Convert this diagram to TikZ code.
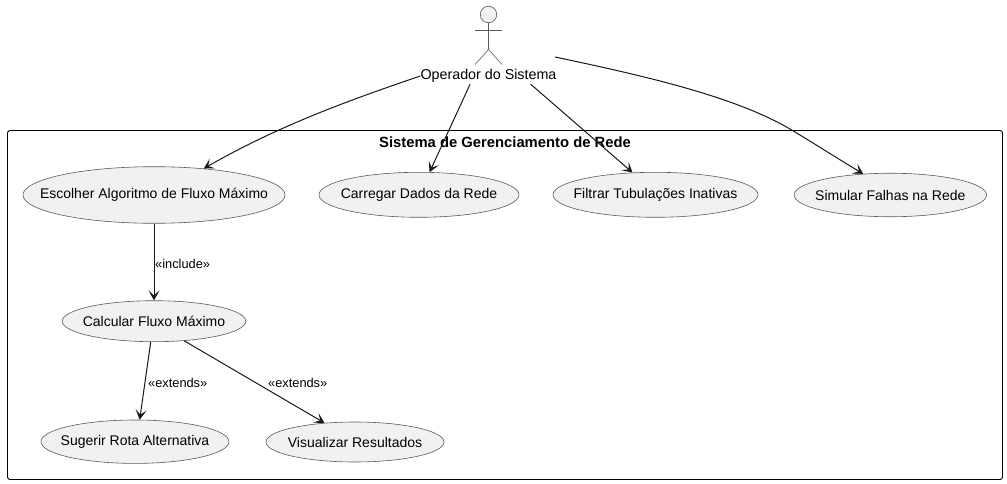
\documentclass[tikz,border=0pt]{standalone}
\usepackage{fontspec}
\setmainfont{Liberation Sans}
\usetikzlibrary{arrows.meta,shapes.geometric}
\definecolor{umlink}{HTML}{181818}
\definecolor{umlline}{HTML}{5A5A5A}
\definecolor{umlfill}{HTML}{F1F1F1}
\newcommand{\uclabel}[1]{\makebox[0pt]{#1}}
\tikzset{
  usecase/.style={ellipse,draw=umlline,line width=0.6pt,fill=umlfill,inner sep=0pt,text=black,font=\fontsize{14}{16}\selectfont},
  conn/.style={draw=umlink,line width=1pt,-{Stealth[length=10pt,width=11pt,inset=5pt]}},
  stereo/.style={inner sep=0pt,anchor=west,font=\fontsize{12.8}{14}\selectfont},
  stick/.style={draw=umlline,line width=0.6pt}
}
\begin{document}
\begin{tikzpicture}[x=1pt,y=-1pt]
  \useasboundingbox (0,0) rectangle (1007,484);
  \draw[draw=black,line width=0.9pt,rounded corners=2.5pt] (7.5,130.5) rectangle (1002.5,479.5);
  \node[font=\bfseries\fontsize{14.8}{16}\selectfont,inner sep=0pt] (frametitle) at (505,142) {Sistema de Gerenciamento de Rede};
  % actor
  \node[circle,draw=umlline,line width=0.6pt,fill=umlfill,minimum size=16.5pt,inner sep=0pt] (head) at (488.5,14.5) {};
  \coordinate (hip) at (488.5,49.5);
  \draw[stick] (head.south) -- (hip);
  \draw[stick] (475,30.5) -- (502,30.5);
  \draw[stick] (475,64.5) -- (hip) -- (502,64.5);
  \node[font=\fontsize{14.3}{16}\selectfont,inner sep=0pt,minimum height=16pt] (oper) at (488.5,76) {Operador do Sistema};
  \coordinate (simstart) at (555,57);
  % use cases
  \node[usecase,minimum width=262pt,minimum height=56.6pt] (escolher) at (154,195) {\uclabel{Escolher Algoritmo de Fluxo Máximo}};
  \node[usecase,minimum width=200pt,minimum height=45pt] (carregar) at (419,194.8) {\uclabel{Carregar Dados da Rede}};
  \node[usecase,minimum width=205pt,minimum height=45pt] (filtrar) at (655.5,194.8) {\uclabel{Filtrar Tubulações Inativas}};
  \node[usecase,minimum width=192.5pt,minimum height=43.5pt] (simular) at (890.3,195) {\uclabel{Simular Falhas na Rede}};
  \node[usecase,minimum width=183.5pt,minimum height=41pt] (calcular) at (154,321.2) {\uclabel{Calcular Fluxo Máximo}};
  \node[usecase,minimum width=188pt,minimum height=43.4pt] (sugerir) at (135,441.7) {\uclabel{Sugerir Rota Alternativa}};
  \node[usecase,minimum width=178pt,minimum height=40pt] (visualizar) at (355,442) {\uclabel{Visualizar Resultados}};
  % connectors
  \draw[conn] (oper.west) .. controls (350,100) and (280,125) .. (escolher.28);
  \draw[conn] (oper.204) -- (carregar.65);
  \draw[conn] (oper.-11) -- (filtrar.136);
  \draw[conn] (simstart) .. controls (650,77) and (735,97) .. (790,129) .. controls (815,144) and (840,160) .. (simular.142);
  \draw[conn] (escolher.south) -- (calcular.north);
  \draw[conn] (calcular.261) -- (sugerir.78);
  \draw[conn] (calcular.-33) -- (visualizar.148);
  % labels
  \node[stereo] (inc) at (155,264) {«include»};
  \node[stereo] (ext1) at (148,383) {«extends»};
  \node[stereo] (ext2) at (268,383) {«extends»};
\end{tikzpicture}
\end{document}
